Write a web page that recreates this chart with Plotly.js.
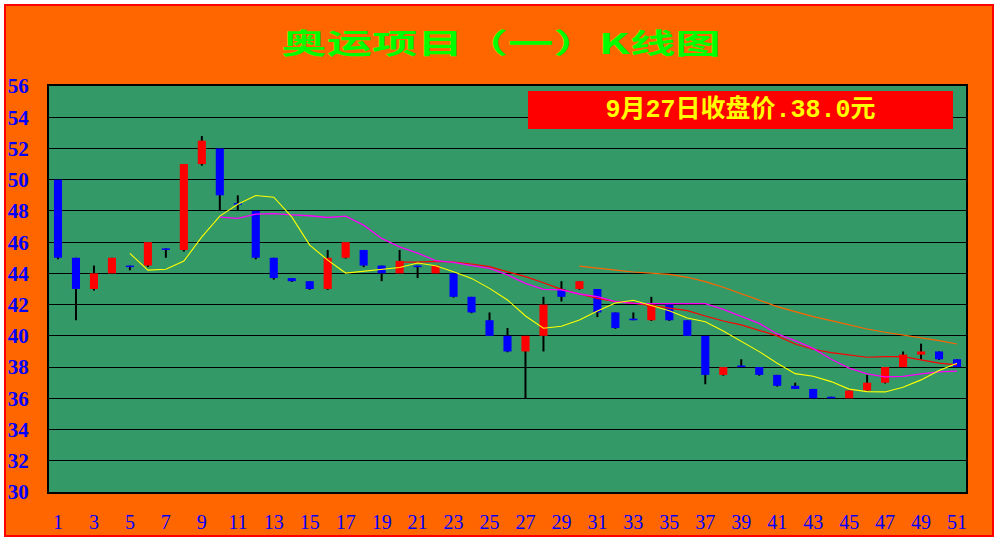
<!DOCTYPE html>
<html>
<head>
<meta charset="utf-8">
<script src="https://cdn.plot.ly/plotly-3.0.1.min.js"></script>
<style>
  html, body { margin: 0; padding: 0; background: #ffffff; }
  #frame {
    position: absolute; left: 4px; top: 4px;
    width: 986px; height: 529px;
    border: 2px solid #ff0000;
    background: #ff6600;
  }
  #chart { width: 986px; height: 529px; }
  /* wide, squat heading lettering */
  #chart .gtitle {
    transform-box: fill-box;
    transform-origin: center;
    transform: scaleX(1.62);
  }
</style>
</head>
<body>
<div id="frame"><div id="chart"></div></div>
<script>
// Trading days
const days = [1,2,3,4,5,6,7,8,9,10,11,12,13,14,15,16,17,18,19,20,21,22,23,24,25,
  26,27,28,29,30,31,32,33,34,35,36,37,38,39,40,41,42,43,44,45,46,47,48,49,50,51];

// Daily prices
const openP  = [50,45,43,44,44.5,44.5,45.6,45.5,51,52,48.5,48,45,43.7,43.5,43,45,45.5,44.5,44,
  44.5,44,44,42.5,41,40,39,40,43,43,43,41.5,41.1,41,42,41,40,37.5,38.1,38,
  37.5,36.8,36.6,36.1,36,36.5,37,38,38.8,39,38.5];
const closeP = [45,43,44,45,44.4,46,45.5,51,52.5,49,48.4,45,43.7,43.5,43,45,46,44.5,44,44.8,
  44.4,44.5,42.5,41.5,40,39,40,42,42.5,43.5,41.5,40.5,41,42,41,40,37.5,38,38,37.5,
  36.8,36.6,36,36,36.5,37,38,38.8,39,38.5,38];
const highP  = [50,45,44.5,45,44.5,46,45.6,51,52.8,52,49,48,45,43.7,43.5,45.5,46,45.5,44.5,45.5,
  44.5,44.5,44,42.5,41.5,40.5,40,42.5,43.5,43.5,43,41.5,41.5,42.5,42,41,40,38,38.5,38,
  37.5,37,36.6,36.1,36.5,37.5,38,39,39.5,39,38.5];
const lowP   = [44.9,41,42.9,44,44.2,44.4,45,45.4,50.9,48,48,44.9,43.6,43.45,42.95,42.95,44.95,44.4,43.5,44,
  43.7,44,42.45,41.45,40,38.95,36,39,42.2,42.95,41.2,40.45,41,40.95,40.95,40,36.9,37.45,38,37.45,
  36.75,36.6,36,36,36,36.5,36.95,38,38.5,38.45,38];

// Moving averages
const ma5Days = [5,6,7,8,9,10,11,12,13,14,15,16,17,18,19,20,21,22,23,24,25,26,27,28,29,30,
  31,32,33,34,35,36,37,38,39,40,41,42,43,44,45,46,47,48,49,50,51];
const ma5 = [45.28,44.21,44.26,44.79,46.34,47.67,48.43,48.99,48.88,47.62,45.81,44.85,44.02,44.15,44.26,44.38,
  44.66,44.49,44.1,43.68,43.04,42.3,41.27,40.49,40.61,41.02,41.59,42.1,42.28,41.96,41.61,41.14,
  40.9,40.31,39.67,38.99,38.25,37.58,37.41,37.07,36.59,36.43,36.41,36.71,37.18,37.78,38.25];

const ma10Days = [10,11,12,13,14,15,16,17,18,19,20,21,22,23,24,25,26,27,28,29,30,
  31,32,33,34,35,36,37,38,39,40,41,42,43,44,45,46,47,48,49,50,51];
const ma10 = [47.6,47.52,47.79,47.83,47.75,47.69,47.58,47.67,47.09,46.24,45.7,45.3,44.82,44.7,44.49,44.32,
  43.9,43.36,42.98,42.94,42.68,42.51,42.19,42.08,42.06,42.06,42.06,42.06,41.7,41.23,40.8,40.12,
  39.7,39.2,38.5,37.93,37.56,37.37,37.41,37.56,37.69,37.74];

const ma20Days = [20,21,22,23,24,25,26,27,28,29,30,31,32,33,34,35,36,37,38,39,40,
  41,42,43,44,45,46,47,48,49,50,51];
const ma20 = [44.72,44.72,44.77,44.73,44.6,44.43,44.1,43.79,43.4,42.98,42.68,42.4,42.19,42.1,41.93,41.78,
  41.61,41.27,40.95,40.7,40.33,40.0,39.48,39.14,38.93,38.78,38.63,38.67,38.67,38.46,38.25,38.14];

const ma30Days = [30,31,32,33,34,35,36,37,38,39,40,41,42,43,44,45,46,47,48,49,50,51];
const ma30 = [44.47,44.32,44.21,44.09,44.0,43.94,43.75,43.47,43.11,42.68,42.25,41.87,41.55,41.23,
  40.97,40.7,40.44,40.23,40.06,39.88,39.69,39.48];

// Axis ticks
const yTicks = [30,32,34,36,38,40,42,44,46,48,50,52,54,56];
const xTicks = [1,3,5,7,9,11,13,15,17,19,21,23,25,27,29,31,33,35,37,39,41,43,45,47,49,51];

const titleText = '奥运项目（一）K线图';
const noteText = '9月27日收盘价.38.0元';

// Candle geometry derived from the price arrays
const bodyBase = openP.map((o, i) => Math.min(o, closeP[i]));
const bodyLen  = openP.map((o, i) => Math.max(Math.abs(closeP[i] - o), 0.1));
const bodyColor = openP.map((o, i) => closeP[i] >= o ? '#ff0000' : '#0000ff');
const wickLen = highP.map((h, i) => h - lowP[i]);

const traces = [
  { type: 'bar', x: days, y: wickLen, base: lowP, width: 0.11,
    marker: { color: '#000000', line: { width: 0 } }, hoverinfo: 'skip' },
  { type: 'bar', x: days, y: bodyLen, base: bodyBase, width: 0.45,
    marker: { color: bodyColor, line: { width: 0 } } },
  { type: 'scatter', mode: 'lines', x: ma30Days, y: ma30, line: { color: '#ff6600', width: 1.2 } },
  { type: 'scatter', mode: 'lines', x: ma20Days, y: ma20, line: { color: '#ff0000', width: 1.2 } },
  { type: 'scatter', mode: 'lines', x: ma10Days, y: ma10, line: { color: '#ff00ff', width: 1.3 } },
  { type: 'scatter', mode: 'lines', x: ma5Days, y: ma5, line: { color: '#ffff00', width: 1.1 } }
];

const layout = {
  width: 986, height: 529,
  margin: { l: 43, r: 26, t: 80, b: 43 },
  paper_bgcolor: '#ff6600',
  plot_bgcolor: '#339966',
  showlegend: false,
  barmode: 'overlay',
  title: {
    text: titleText,
    x: 0.502, xref: 'container', xanchor: 'center',
    y: 0.928, yref: 'container', yanchor: 'middle',
    font: { family: 'Noto Sans CJK SC', size: 28, color: '#00ff00', weight: 'bold' }
  },
  xaxis: {
    range: [0.5, 51.5],
    tickmode: 'array', tickvals: xTicks, ticktext: xTicks.map(String),
    showgrid: false, zeroline: false, ticks: '',
    showline: true, mirror: true, linecolor: '#000000', linewidth: 2,
    ticklabelstandoff: 11,
    tickfont: { family: 'Liberation Serif', size: 20, color: '#0000ff' }
  },
  yaxis: {
    range: [30, 56],
    tickmode: 'array', tickvals: yTicks, ticktext: yTicks.map(String),
    showgrid: true, gridcolor: '#000000', gridwidth: 1,
    zeroline: false, ticks: '',
    showline: true, mirror: true, linecolor: '#000000', linewidth: 2,
    ticklabelstandoff: 14,
    tickfont: { family: 'Liberation Serif', size: 21, color: '#0000ff', weight: 'bold' }
  },
  annotations: [{
    text: noteText,
    xref: 'paper', yref: 'paper',
    x: 0.754, y: 0.941, xanchor: 'center', yanchor: 'middle',
    showarrow: false,
    width: 421, height: 34, borderpad: 2, borderwidth: 0,
    bgcolor: '#ff0000',
    font: { family: 'Liberation Mono, Noto Sans CJK SC', size: 25, color: '#ffff00', weight: 'bold' }
  }]
};

Plotly.newPlot('chart', traces, layout, { displayModeBar: false, staticPlot: true });
</script>
</body>
</html>
